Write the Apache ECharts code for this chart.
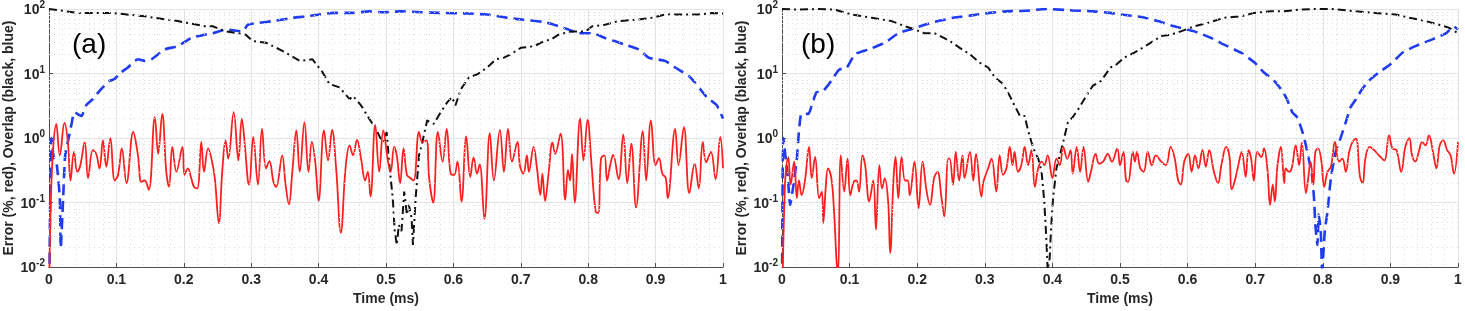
<!DOCTYPE html>
<html><head><meta charset="utf-8">
<script src="https://cdn.jsdelivr.net/npm/echarts@6/dist/echarts.min.js"></script>
<style>html,body{margin:0;padding:0;background:#fff}#c{width:1465px;height:311px}</style>
</head><body><div id="c"></div>
<script>
// ---------- DATA (time in ms, values in % ) ----------
const panelLabels = ['(a)', '(b)'];
const xTickStep = 0.1;
const yDecades = [0.01, 0.1, 1, 10, 100];
const minorGridValues = [0.02,0.03,0.04,0.05,0.06,0.07,0.08,0.09,0.2,0.3,0.4,0.5,0.6,0.7,0.8,0.9,2,3,4,5,6,7,8,9,20,30,40,50,60,70,80,90];

// Panel (a): red = error
const errA = [[0,0.001],[0.0035,0.19],[0.011,1.66],[0.016,0.54],[0.023,1.72],[0.028,0.87],[0.032,0.22],[0.037,0.61],[0.042,0.30],[0.0465,0.38],[0.053,0.87],[0.058,0.24],[0.065,0.65],[0.070,0.57],[0.075,0.34],[0.080,0.92],[0.085,0.36],[0.091,1.0],[0.0975,0.22],[0.1025,0.27],[0.108,0.69],[0.115,0.20],[0.125,1.24],[0.132,0.54],[0.137,0.21],[0.142,0.22],[0.148,0.157],[0.157,2.10],[0.162,0.57],[0.168,2.37],[0.174,0.30],[0.178,0.176],[0.183,0.73],[0.189,0.30],[0.198,0.73],[0.201,0.27],[0.206,0.34],[0.211,0.24],[0.215,0.176],[0.220,0.166],[0.226,0.87],[0.230,0.30],[0.236,0.69],[0.241,0.48],[0.246,0.24],[0.252,0.048],[0.257,0.30],[0.262,0.92],[0.266,0.48],[0.274,2.51],[0.281,0.45],[0.286,1.98],[0.291,0.69],[0.295,0.22],[0.297,0.19],[0.303,1.04],[0.310,0.19],[0.316,1.39],[0.322,0.34],[0.327,0.44],[0.333,0.21],[0.337,0.176],[0.346,0.54],[0.351,0.19],[0.356,0.094],[0.361,0.30],[0.367,1.31],[0.372,0.30],[0.379,1.76],[0.385,0.30],[0.390,0.87],[0.395,0.43],[0.400,0.106],[0.408,1.31],[0.414,0.45],[0.420,1.34],[0.426,0.34],[0.433,0.034],[0.440,0.34],[0.446,0.77],[0.451,0.54],[0.457,0.94],[0.463,0.48],[0.469,0.22],[0.473,0.30],[0.477,0.124],[0.484,1.60],[0.490,0.30],[0.496,1.31],[0.503,0.43],[0.507,0.30],[0.512,0.73],[0.516,0.54],[0.521,0.20],[0.526,0.69],[0.531,0.27],[0.536,0.24],[0.541,0.22],[0.549,1.24],[0.554,0.87],[0.560,0.92],[0.564,0.24],[0.570,0.10],[0.577,1.24],[0.584,0.43],[0.590,1.39],[0.596,0.28],[0.601,0.27],[0.606,0.43],[0.612,0.104],[0.619,1.06],[0.625,0.25],[0.630,0.50],[0.635,0.28],[0.639,0.39],[0.646,0.056],[0.654,1.19],[0.660,0.22],[0.669,1.34],[0.675,0.30],[0.681,1.39],[0.687,0.43],[0.695,0.87],[0.699,0.36],[0.704,0.28],[0.709,0.54],[0.712,0.30],[0.719,0.73],[0.724,0.34],[0.729,0.131],[0.732,0.28],[0.736,0.106],[0.741,0.27],[0.747,0.85],[0.751,0.57],[0.759,1.17],[0.766,0.11],[0.770,0.32],[0.773,0.22],[0.776,0.57],[0.780,0.10],[0.788,2.03],[0.793,0.45],[0.799,1.91],[0.805,0.38],[0.811,0.073],[0.815,0.069],[0.819,0.48],[0.824,0.54],[0.828,0.22],[0.833,0.40],[0.837,0.55],[0.845,0.23],[0.852,1.14],[0.858,0.20],[0.864,0.82],[0.871,0.084],[0.881,1.28],[0.886,0.22],[0.893,1.87],[0.900,0.38],[0.905,0.49],[0.910,0.28],[0.915,0.24],[0.918,0.117],[0.929,1.39],[0.934,0.38],[0.942,1.48],[0.950,0.14],[0.958,0.40],[0.964,0.166],[0.970,0.87],[0.975,0.42],[0.982,0.61],[0.989,0.23],[0.996,1.04],[1.0,0.34]];

// Panel (a): black = overlap 1
const ovBlackA = [[0,100],[0.001,98],[0.043,87],[0.093,87],[0.142,77],[0.191,65],[0.231,54],[0.243,54],[0.262,45],[0.292,40],[0.302,32],[0.322,30],[0.347,22.3],[0.372,15.7],[0.391,16.6],[0.406,10.4],[0.416,6.9],[0.431,6.1],[0.446,4.0],[0.451,4.5],[0.463,3.2],[0.475,2.0],[0.485,1.39],[0.492,0.98],[0.497,0.87],[0.501,1.24],[0.505,0.38],[0.510,0.117],[0.513,0.036],[0.516,0.022],[0.519,0.045],[0.523,0.036],[0.527,0.148],[0.531,0.065],[0.534,0.092],[0.538,0.057],[0.540,0.022],[0.544,0.117],[0.549,0.54],[0.554,0.87],[0.561,1.87],[0.571,1.66],[0.581,2.5],[0.591,3.6],[0.598,4.3],[0.603,3.2],[0.611,5.7],[0.623,8.7],[0.636,9.8],[0.650,12.4],[0.663,16.6],[0.675,17.6],[0.685,19.8],[0.700,25],[0.720,26.6],[0.735,32],[0.745,33.8],[0.756,40],[0.776,45],[0.796,45],[0.806,54],[0.825,57],[0.845,65],[0.870,68],[0.894,73],[0.914,82],[0.939,82],[0.964,82],[0.984,87],[1.0,85]];

// Panel (a): blue = overlap 2
const ovBlueA = [[0,0.001],[0.0035,1.0],[0.0075,0.48],[0.011,0.43],[0.016,0.117],[0.0174,0.02],[0.021,0.117],[0.024,0.54],[0.029,0.98],[0.033,1.57],[0.038,2.5],[0.048,2.2],[0.055,3.2],[0.065,4.0],[0.075,5.4],[0.090,7.7],[0.097,8.2],[0.107,10.4],[0.117,12.4],[0.132,16.6],[0.142,15.7],[0.152,16.6],[0.172,23.6],[0.191,26.6],[0.211,35.5],[0.231,40],[0.243,42],[0.262,48],[0.287,45],[0.295,57],[0.312,61],[0.332,65],[0.362,73],[0.381,77],[0.401,82],[0.421,87],[0.450,87],[0.475,92],[0.495,89],[0.522,92],[0.552,89],[0.581,87],[0.621,85],[0.650,82],[0.680,73],[0.705,68],[0.734,63],[0.756,54],[0.771,48],[0.786,42],[0.806,42],[0.825,35.5],[0.855,28],[0.875,23.6],[0.890,17.6],[0.914,15.7],[0.929,12.4],[0.949,9.2],[0.962,6.5],[0.976,4.3],[0.991,3.2],[1.0,2.0]];

// Panel (b): red = error
const errB = [[0,0.001],[0.0044,0.19],[0.0093,0.51],[0.0128,0.19],[0.018,0.43],[0.022,0.117],[0.025,0.22],[0.029,0.13],[0.034,0.22],[0.040,0.73],[0.044,0.24],[0.049,0.51],[0.055,0.117],[0.059,0.148],[0.061,0.048],[0.065,0.19],[0.068,0.34],[0.073,0.24],[0.077,0.073],[0.081,0.011],[0.083,0.008],[0.087,0.54],[0.092,0.148],[0.097,0.48],[0.101,0.13],[0.106,0.21],[0.110,0.22],[0.114,0.148],[0.119,0.54],[0.123,0.38],[0.129,0.104],[0.135,0.22],[0.139,0.038],[0.144,0.38],[0.148,0.166],[0.152,0.24],[0.157,0.104],[0.160,0.0166],[0.165,0.24],[0.168,0.51],[0.172,0.117],[0.177,0.51],[0.182,0.22],[0.186,0.22],[0.189,0.13],[0.196,0.43],[0.202,0.082],[0.208,0.43],[0.214,0.148],[0.219,0.092],[0.225,0.24],[0.230,0.30],[0.236,0.117],[0.240,0.061],[0.246,0.48],[0.248,0.48],[0.253,0.19],[0.257,0.61],[0.262,0.22],[0.267,0.54],[0.270,0.24],[0.278,0.61],[0.283,0.22],[0.287,0.57],[0.295,0.124],[0.298,0.21],[0.305,0.34],[0.310,0.48],[0.317,0.148],[0.322,0.54],[0.327,0.27],[0.332,0.34],[0.337,0.73],[0.341,0.38],[0.344,0.61],[0.349,0.30],[0.354,0.38],[0.359,0.73],[0.364,0.38],[0.369,0.65],[0.374,0.176],[0.379,0.34],[0.384,0.43],[0.388,0.38],[0.393,0.54],[0.400,0.24],[0.406,0.48],[0.411,0.38],[0.416,0.73],[0.422,0.48],[0.427,0.65],[0.430,0.28],[0.436,0.73],[0.441,0.30],[0.446,0.73],[0.453,0.21],[0.457,0.30],[0.464,0.57],[0.469,0.40],[0.475,0.43],[0.482,0.57],[0.488,0.43],[0.496,0.69],[0.500,0.38],[0.505,0.61],[0.509,0.22],[0.512,0.21],[0.519,0.61],[0.522,0.43],[0.525,0.61],[0.530,0.34],[0.535,0.30],[0.541,0.61],[0.547,0.38],[0.553,0.54],[0.561,0.43],[0.568,0.38],[0.575,0.73],[0.581,0.48],[0.586,0.22],[0.590,0.19],[0.595,0.43],[0.601,0.57],[0.606,0.30],[0.611,0.54],[0.616,0.34],[0.622,0.65],[0.627,0.36],[0.632,0.65],[0.639,0.30],[0.645,0.20],[0.650,0.38],[0.657,0.73],[0.662,0.51],[0.665,0.16],[0.670,0.22],[0.675,0.38],[0.680,0.61],[0.686,0.25],[0.690,0.65],[0.694,0.48],[0.698,0.22],[0.703,0.61],[0.709,0.51],[0.713,0.69],[0.718,0.34],[0.722,0.092],[0.726,0.19],[0.729,0.104],[0.733,0.38],[0.738,0.73],[0.743,0.20],[0.745,0.34],[0.750,0.30],[0.754,0.34],[0.760,0.77],[0.765,0.38],[0.769,0.85],[0.775,0.14],[0.778,0.22],[0.782,0.43],[0.786,0.19],[0.789,0.61],[0.793,0.69],[0.798,0.43],[0.802,0.176],[0.807,0.30],[0.812,0.36],[0.818,0.87],[0.824,0.43],[0.829,0.48],[0.834,0.30],[0.839,0.61],[0.844,0.87],[0.849,0.98],[0.855,0.25],[0.859,0.20],[0.863,0.48],[0.869,0.73],[0.876,0.65],[0.883,0.54],[0.891,0.45],[0.898,1.10],[0.903,0.69],[0.909,0.65],[0.916,0.30],[0.922,0.73],[0.928,1.0],[0.932,0.54],[0.937,0.43],[0.942,0.61],[0.947,0.87],[0.952,0.77],[0.957,1.10],[0.963,0.61],[0.968,0.34],[0.973,0.77],[0.978,0.92],[0.984,0.65],[0.989,0.54],[0.994,0.28],[1.0,0.87]];

// Panel (b): black = overlap 1
const ovBlackB = [[0,100],[0.002,100],[0.024,98],[0.054,100],[0.078,98],[0.103,82],[0.133,73],[0.162,65],[0.182,54],[0.197,48],[0.211,42],[0.226,42],[0.243,34],[0.248,32],[0.263,25],[0.278,19.8],[0.292,14.8],[0.305,12.4],[0.315,8.7],[0.327,6.9],[0.337,4.5],[0.344,3.2],[0.352,2.2],[0.359,2.2],[0.364,1.31],[0.369,0.87],[0.374,0.61],[0.379,0.48],[0.384,0.30],[0.388,0.104],[0.391,0.028],[0.393,0.009],[0.396,0.0139],[0.398,0.04],[0.401,0.117],[0.406,0.34],[0.411,0.54],[0.416,0.87],[0.423,1.76],[0.430,2.1],[0.440,3.0],[0.450,4.5],[0.460,6.5],[0.472,7.7],[0.486,12.4],[0.495,13.9],[0.506,17.6],[0.521,21],[0.541,28],[0.561,38],[0.575,40],[0.590,45],[0.610,54],[0.630,61],[0.654,73],[0.679,77],[0.698,87],[0.723,92],[0.743,92],[0.765,98],[0.789,100],[0.814,100],[0.849,92],[0.878,87],[0.908,82],[0.928,73],[0.952,65],[0.972,57],[0.987,51],[1.0,42]];

// Panel (b): blue = overlap 2
const ovBlueB = [[0,0.001],[0.002,1.0],[0.009,0.22],[0.012,0.092],[0.017,0.19],[0.022,0.48],[0.025,1.24],[0.029,2.37],[0.039,2.37],[0.044,3.2],[0.051,5.1],[0.061,5.4],[0.073,7.7],[0.086,11.7],[0.093,11.7],[0.108,19.8],[0.128,23.6],[0.152,30],[0.172,42],[0.192,49],[0.211,57],[0.231,65],[0.246,70],[0.253,73],[0.278,79],[0.307,87],[0.332,92],[0.362,94],[0.391,100],[0.430,95],[0.460,92],[0.485,87],[0.502,82],[0.531,75],[0.556,65],[0.580,54],[0.610,45],[0.635,35.5],[0.654,28],[0.679,21],[0.699,14.8],[0.713,10.4],[0.728,7.7],[0.740,5.4],[0.747,4.0],[0.755,2.5],[0.762,2.1],[0.770,1.24],[0.775,0.77],[0.780,0.43],[0.784,0.27],[0.787,0.117],[0.789,0.045],[0.792,0.022],[0.794,0.065],[0.797,0.036],[0.799,0.009],[0.803,0.036],[0.807,0.073],[0.812,0.24],[0.819,0.61],[0.826,0.98],[0.834,1.76],[0.841,3.0],[0.849,4.0],[0.858,5.7],[0.868,7.7],[0.883,10.4],[0.900,13.9],[0.918,21],[0.937,26.6],[0.962,33.8],[0.982,42],[0.994,53],[1.0,48]];

const xAxisTitle = 'Time (ms)';
const yAxisTitle = 'Error (%, red), Overlap (black, blue)';

// ---------- CHART ----------
const FONT = '"Liberation Sans", Arial, Helvetica, sans-serif';
const chart = echarts.init(document.getElementById('c'), null, {renderer: 'canvas'});
const grids = [
  {left: 49, top: 9, width: 674, height: 260},
  {left: 782, top: 9, width: 676, height: 260}
];
function xAxis(i) {
  return {
    type: 'value', gridIndex: i, min: 0, max: 1, interval: xTickStep,
    name: xAxisTitle, nameLocation: 'middle', nameGap: 22,
    nameTextStyle: {fontFamily: FONT, fontWeight: 'bold', fontSize: 14, color: '#262626'},
    axisLine: {show: true, onZero: false, lineStyle: {color: '#4d4d4d', width: 1}},
    axisTick: {show: true, inside: true, length: 4, lineStyle: {color: '#4d4d4d'}},
    axisLabel: {fontFamily: FONT, fontWeight: 'bold', fontSize: 14, color: '#262626', margin: 6,
      formatter: v => (Math.round(v * 10) / 10).toString()},
    splitLine: {show: true, lineStyle: {color: '#e3e3e3', width: 1}},
    minorTick: {show: false, splitNumber: 5},
    minorSplitLine: {show: true, lineStyle: {color: '#dcdcdc', width: 1, type: [1, 4]}}
  };
}
function yAxis(i) {
  return {
    type: 'log', logBase: 10, gridIndex: i, min: yDecades[0], max: yDecades[yDecades.length - 1],
    name: yAxisTitle, nameLocation: 'middle', nameGap: 32, nameRotate: 90,
    nameTextStyle: {fontFamily: FONT, fontWeight: 'bold', fontSize: 14, color: '#262626'},
    axisLine: {show: true, lineStyle: {color: '#4d4d4d', width: 1}},
    axisTick: {show: true, inside: true, length: 4, lineStyle: {color: '#4d4d4d'}},
    axisLabel: {
      margin: 4,
      formatter: v => '{b|10}{s|' + Math.round(Math.log10(v)) + '}',
      rich: {
        b: {fontFamily: FONT, fontWeight: 'bold', fontSize: 14, color: '#262626', verticalAlign: 'bottom'},
        s: {fontFamily: FONT, fontWeight: 'bold', fontSize: 10, color: '#262626', verticalAlign: 'bottom', padding: [0, 0, 7, 0]}
      }
    },
    splitLine: {show: true, lineStyle: {color: '#e3e3e3', width: 1}}
  };
}
function minorGrid(i) {
  return {
    type: 'line', xAxisIndex: i, yAxisIndex: i, data: [], silent: true, z: 1,
    markLine: {
      silent: true, symbol: ['none', 'none'], label: {show: false}, animation: false,
      lineStyle: {color: '#dcdcdc', width: 1, type: [1, 4]},
      emphasis: {disabled: true},
      data: minorGridValues.map(v => ({yAxis: v}))
    }
  };
}
function blue(i, d) {
  return {type: 'line', xAxisIndex: i, yAxisIndex: i, data: d, showSymbol: false, z: 3, smooth: 0.2,
    lineStyle: {color: '#1f3cf2', width: 2.6, type: [11, 6]}, clip: true};
}
function black(i, d) {
  return {type: 'line', xAxisIndex: i, yAxisIndex: i, data: d, showSymbol: false, z: 3,
    lineStyle: {color: '#111111', width: 2, type: [8, 4, 2, 4]}, clip: true};
}
function red(i, d) {
  return {type: 'line', xAxisIndex: i, yAxisIndex: i, data: d, showSymbol: false, z: 4, smooth: 0.4,
    lineStyle: {color: '#ff1f1f', width: 1.8}, clip: true};
}
chart.setOption({
  animation: false,
  backgroundColor: '#ffffff',
  title: [
    {text: panelLabels[0], left: 67, top: 26, textStyle: {fontFamily: FONT, fontWeight: 'normal', fontSize: 28, color: '#000'}},
    {text: panelLabels[1], left: 796, top: 26, textStyle: {fontFamily: FONT, fontWeight: 'normal', fontSize: 28, color: '#000'}}
  ],
  grid: grids,
  xAxis: [xAxis(0), xAxis(1)],
  yAxis: [yAxis(0), yAxis(1)],
  series: [
    minorGrid(0), minorGrid(1),
    blue(0, ovBlueA), black(0, ovBlackA), red(0, errA),
    blue(1, ovBlueB), black(1, ovBlackB), red(1, errB)
  ]
});
</script>
</body></html>
